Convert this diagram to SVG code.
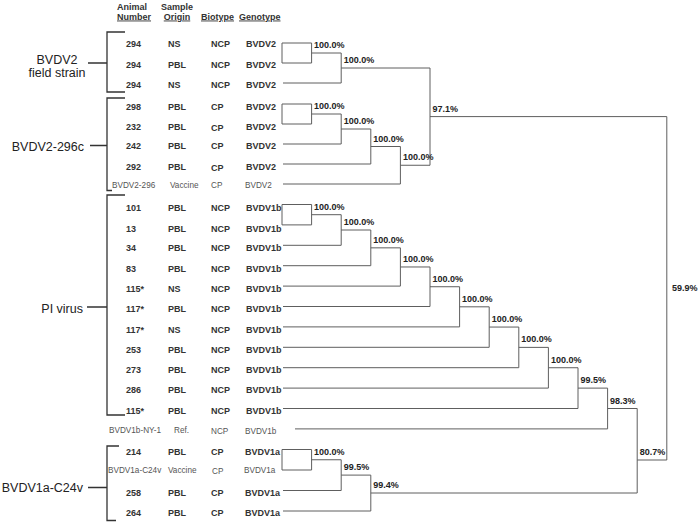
<svg xmlns="http://www.w3.org/2000/svg" width="699" height="524" viewBox="0 0 699 524">
<style>
text{font-family:"Liberation Sans",Arial,sans-serif;}
.h{font-size:9px;font-weight:bold;fill:#333;}
.u{text-decoration:underline;}
.b{font-size:9px;font-weight:bold;fill:#333;}
.t{font-size:8.2px;fill:#555;}
.g{font-size:12.5px;fill:#222;}
.s{font-size:9px;font-weight:bold;fill:#222;}
.tree{fill:none;stroke:#5e5e5e;stroke-width:1;}
.br{fill:none;stroke:#333;stroke-width:1.3;}
</style>
<rect width="699" height="524" fill="#fff"/>
<g id="header">
<text class="h" x="117" y="9.5">Animal</text>
<text class="h u" x="117" y="19.5">Number</text>
<text class="h" x="177" y="9.5" text-anchor="middle">Sample</text>
<text class="h u" x="177" y="19.5" text-anchor="middle">Origin</text>
<text class="h u" x="201" y="19.5">Biotype</text>
<text class="h u" x="239" y="19.5">Genotype</text>
</g>
<g id="groups">
<g id="grp-bvdv2-field">
<text class="g" x="57" y="64" text-anchor="middle">BVDV2</text>
<text class="g" x="57" y="77" text-anchor="middle">field strain</text>
<path class="br" d="M88,63H107M125,32H107V92H125"/>
</g>
<g id="grp-bvdv2-296c">
<text class="g" x="84" y="150.5" text-anchor="end">BVDV2-296c</text>
<path class="br" d="M90,145.5H107M125,98H107V190.5H112"/>
</g>
<g id="grp-pi">
<text class="g" x="83" y="313" text-anchor="end">PI virus</text>
<path class="br" d="M87,307H107M125,195H107V415H125"/>
</g>
<g id="grp-bvdv1a">
<text class="g" x="83" y="492" text-anchor="end">BVDV1a-C24v</text>
<path class="br" d="M88,487.5H107M119,446H107V520.5H116"/>
</g>
</g>
<g id="rows">
<g id="r1"><text class="b" x="126" y="47.3">294</text><text class="b" x="168" y="47.3">NS</text><text class="b" x="211" y="47.3">NCP</text><text class="b" x="246" y="47.3">BVDV2</text></g>
<g id="r2"><text class="b" x="126" y="68.3">294</text><text class="b" x="168" y="68.3">PBL</text><text class="b" x="211" y="68.3">NCP</text><text class="b" x="246" y="68.3">BVDV2</text></g>
<g id="r3"><text class="b" x="126" y="88.3">294</text><text class="b" x="168" y="88.3">NS</text><text class="b" x="211" y="88.3">NCP</text><text class="b" x="246" y="88.3">BVDV2</text></g>
<g id="r4"><text class="b" x="126" y="110.3">298</text><text class="b" x="168" y="110.3">PBL</text><text class="b" x="211" y="110.3">CP</text><text class="b" x="246" y="110.3">BVDV2</text></g>
<g id="r5"><text class="b" x="126" y="130.3">232</text><text class="b" x="168" y="130.3">PBL</text><text class="b" x="211" y="130.8">CP</text><text class="b" x="246" y="130.3">BVDV2</text></g>
<g id="r6"><text class="b" x="126" y="149.3">242</text><text class="b" x="168" y="149.3">PBL</text><text class="b" x="211" y="149.3">CP</text><text class="b" x="246" y="149.3">BVDV2</text></g>
<g id="r7"><text class="b" x="126" y="170.3">292</text><text class="b" x="168" y="170.3">PBL</text><text class="b" x="211" y="170.8">CP</text><text class="b" x="246" y="170.3">BVDV2</text></g>
<g id="r8"><text class="t" x="112" y="188">BVDV2-296</text><text class="t" x="170" y="188">Vaccine</text><text class="t" x="211" y="188">CP</text><text class="t" x="245" y="188">BVDV2</text></g>
<g id="r9"><text class="b" x="126" y="211.3">101</text><text class="b" x="168" y="211.3">PBL</text><text class="b" x="211" y="211.3">NCP</text><text class="b" x="246" y="211.3">BVDV1b</text></g>
<g id="r10"><text class="b" x="126" y="232.3">13</text><text class="b" x="168" y="232.3">PBL</text><text class="b" x="211" y="232.3">NCP</text><text class="b" x="246" y="232.3">BVDV1b</text></g>
<g id="r11"><text class="b" x="126" y="251.3">34</text><text class="b" x="168" y="251.3">PBL</text><text class="b" x="211" y="251.3">NCP</text><text class="b" x="246" y="251.3">BVDV1b</text></g>
<g id="r12"><text class="b" x="126" y="272.3">83</text><text class="b" x="168" y="272.3">PBL</text><text class="b" x="211" y="272.3">NCP</text><text class="b" x="246" y="272.3">BVDV1b</text></g>
<g id="r13"><text class="b" x="126" y="292.3">115*</text><text class="b" x="168" y="292.3">NS</text><text class="b" x="211" y="292.3">NCP</text><text class="b" x="246" y="292.3">BVDV1b</text></g>
<g id="r14"><text class="b" x="126" y="312.3">117*</text><text class="b" x="168" y="312.3">PBL</text><text class="b" x="211" y="312.3">NCP</text><text class="b" x="246" y="312.3">BVDV1b</text></g>
<g id="r15"><text class="b" x="126" y="333.3">117*</text><text class="b" x="168" y="333.3">NS</text><text class="b" x="211" y="333.3">NCP</text><text class="b" x="246" y="333.3">BVDV1b</text></g>
<g id="r16"><text class="b" x="126" y="353.3">253</text><text class="b" x="168" y="353.3">PBL</text><text class="b" x="211" y="353.3">NCP</text><text class="b" x="246" y="353.3">BVDV1b</text></g>
<g id="r17"><text class="b" x="126" y="373.3">273</text><text class="b" x="168" y="373.3">PBL</text><text class="b" x="211" y="373.3">NCP</text><text class="b" x="246" y="373.3">BVDV1b</text></g>
<g id="r18"><text class="b" x="126" y="393.3">286</text><text class="b" x="168" y="393.3">PBL</text><text class="b" x="211" y="393.3">NCP</text><text class="b" x="246" y="393.3">BVDV1b</text></g>
<g id="r19"><text class="b" x="126" y="414.3">115*</text><text class="b" x="168" y="414.3">PBL</text><text class="b" x="211" y="414.3">NCP</text><text class="b" x="246" y="414.3">BVDV1b</text></g>
<g id="r20"><text class="t" x="109" y="433">BVDV1b-NY-1</text><text class="t" x="174" y="433">Ref.</text><text class="t" x="211" y="433.5">NCP</text><text class="t" x="245" y="433.5">BVDV1b</text></g>
<g id="r21"><text class="b" x="126" y="455.3">214</text><text class="b" x="168" y="455.3">PBL</text><text class="b" x="211" y="455.3">CP</text><text class="b" x="245" y="455.3">BVDV1a</text></g>
<g id="r22"><text class="t" x="108" y="473">BVDV1a-C24v</text><text class="t" x="168" y="473">Vaccine</text><text class="t" x="212" y="474">CP</text><text class="t" x="244" y="473">BVDV1a</text></g>
<g id="r23"><text class="b" x="126" y="496.3">258</text><text class="b" x="168" y="496.3">PBL</text><text class="b" x="211" y="496.3">CP</text><text class="b" x="245" y="496.3">BVDV1a</text></g>
<g id="r24"><text class="b" x="126" y="516.3">264</text><text class="b" x="168" y="516.3">PBL</text><text class="b" x="211" y="516.3">CP</text><text class="b" x="245" y="516.3">BVDV1a</text></g>
</g>
<g id="connectors">
<path class="tree" d="M282,43H311.6M282,63H311.6M282,43V63M283,83H341.2
M311.6,43V63M311.6,53H341.2M341.2,53V83M341.2,68H430"/>
<path class="tree" d="M282,104H311.6M282,124H311.6M282,104V124M283,144H341.2M283,164H370.8M283,184H400.4
M311.6,104V124M311.6,114H341.2M341.2,114V144M341.2,129H370.8M370.8,129V164M370.8,146.5H400.4M400.4,146.5V184M400.4,165.25H430"/>
<path class="tree" d="M430,68V165.25M430,116.6H666.8M666.8,116.6V460"/>
<path class="tree" d="M282,204.5H311.6M282,224.9H311.6M282,204.5V224.9
M283,245.3H341.2M283,265.7H370.8M283,286.1H400.4M283,306.5H430M283,326.9H459.6M283,347.3H489.2M283,367.7H518.8M283,388.1H548.4M283,408.5H578M295,428.9H607.6
M311.6,204.5V224.9M311.6,214.7H341.2
M341.2,214.7V245.3M341.2,230H370.8
M370.8,230V265.7M370.8,247.85H400.4
M400.4,247.85V286.1M400.4,266.98H430
M430,266.98V306.5M430,286.74H459.6
M459.6,286.74V326.9M459.6,306.82H489.2
M489.2,306.82V347.3M489.2,327.06H518.8
M518.8,327.06V367.7M518.8,347.38H548.4
M548.4,347.38V388.1M548.4,367.74H578
M578,367.74V408.5M578,388.12H607.6
M607.6,388.12V428.9M607.6,408.51H637.2
M637.2,408.51V493M637.2,460H666.8"/>
<path class="tree" d="M282,449.5H311.6M282,470H311.6M282,449.5V470M283,490.5H341.2M283,511H370.8
M311.6,449.5V470M311.6,459.75H341.2
M341.2,459.75V490.5M341.2,475.1H370.8
M370.8,475.1V511M370.8,493H637.2"/>
</g>
<g id="support">
<text class="s" x="314" y="48">100.0%</text>
<text class="s" x="343.7" y="63">100.0%</text>
<text class="s" x="314" y="109">100.0%</text>
<text class="s" x="343.7" y="124">100.0%</text>
<text class="s" x="373.3" y="141.5">100.0%</text>
<text class="s" x="402.9" y="160.3">100.0%</text>
<text class="s" x="432.5" y="111.6">97.1%</text>
<text class="s" x="314" y="209.7">100.0%</text>
<text class="s" x="343.7" y="225">100.0%</text>
<text class="s" x="373.3" y="242.9">100.0%</text>
<text class="s" x="402.9" y="262">100.0%</text>
<text class="s" x="432.5" y="281.7">100.0%</text>
<text class="s" x="462.1" y="301.8">100.0%</text>
<text class="s" x="491.7" y="322">100.0%</text>
<text class="s" x="521.3" y="342.4">100.0%</text>
<text class="s" x="550.9" y="362.7">100.0%</text>
<text class="s" x="580.5" y="383.1">99.5%</text>
<text class="s" x="610.1" y="403.5">98.3%</text>
<text class="s" x="639.7" y="455">80.7%</text>
<text class="s" x="672" y="291">59.9%</text>
<text class="s" x="314" y="454.8">100.0%</text>
<text class="s" x="343.7" y="470.1">99.5%</text>
<text class="s" x="373.3" y="488">99.4%</text>
</g>
</svg>
